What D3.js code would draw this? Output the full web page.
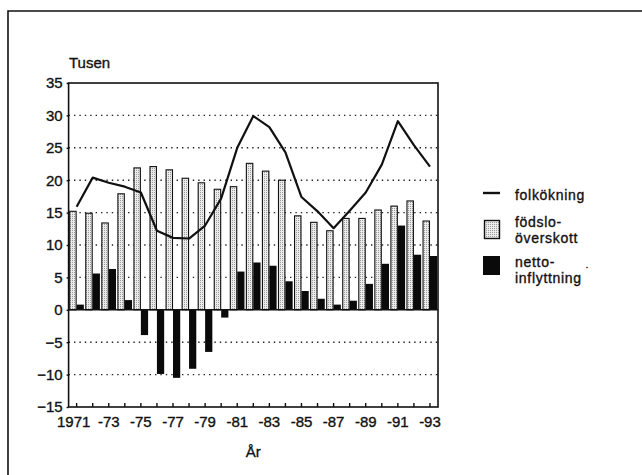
<!DOCTYPE html>
<html>
<head>
<meta charset="utf-8">
<script src="https://cdn.jsdelivr.net/npm/d3@7"></script>
<style>
  body { margin: 0; background: #fff; }
  svg { display: block; font-family: 'Liberation Sans', Arial, sans-serif; }
  svg text { stroke: #111; stroke-width: 0.35px; }
</style>
</head>
<body>
<svg id="chart"></svg>
<script>
// År 1971-1993, tusental
const years = d3.range(1971, 1994);
const fodsloOverskott = [15.2, 14.9, 13.4, 17.9, 21.9, 22.1, 21.6, 20.3, 19.6, 18.6, 19.0, 22.6,
  21.4, 20.0, 14.5, 13.5, 12.2, 14.1, 14.1, 15.4, 16.0, 16.8, 13.7];
const nettoInflyttning = [0.8, 5.6, 6.3, 1.5, -3.9, -9.9, -10.5, -9.1, -6.5, -1.2, 5.9, 7.3,
  6.8, 4.4, 2.9, 1.7, 0.8, 1.4, 4.0, 7.1, 13.0, 8.5, 8.3];
const folkokning = [15.9, 20.4, 19.6, 19.0, 18.1, 12.2, 11.1, 11.0, 13.0, 17.2, 25.0, 29.9,
  28.2, 24.3, 17.4, 15.2, 12.6, 15.3, 18.1, 22.4, 29.1, 25.4, 22.1];
const yTicks = [-15, -10, -5, 0, 5, 10, 15, 20, 25, 30, 35];
const xLabelYears = [1971, 1973, 1975, 1977, 1979, 1981, 1983, 1985, 1987, 1989, 1991, 1993];

const width = 642;
const height = 475;
const plot = { left: 68.6, right: 438, top: 83, bottom: 407 };

const svg = d3.select('#chart')
  .attr('width', width)
  .attr('height', height)
  .attr('viewBox', `0 0 ${width} ${height}`);

// prickig fyllning för födsloöverskott
const pattern = svg.append('defs')
  .append('pattern')
  .attr('id', 'stipple')
  .attr('width', 2)
  .attr('height', 2)
  .attr('patternUnits', 'userSpaceOnUse');
pattern.append('rect').attr('width', 2).attr('height', 2).attr('fill', '#ececec');
pattern.append('rect').attr('width', 1).attr('height', 1).attr('fill', '#9a9a9a');

// yttre ram (bara topp och vänster syns)
svg.append('path')
  .attr('d', `M8,475 V11 H642`)
  .attr('fill', 'none')
  .attr('stroke', '#111')
  .attr('stroke-width', 1.6);

const x = d3.scaleBand()
  .domain(years)
  .range([plot.left, plot.right])
  .padding(0);

const y = d3.scaleLinear()
  .domain([-15, 35])
  .range([plot.bottom, plot.top]);

const bw = x.bandwidth();
const g = svg.append('g');

// streckade rutlinjer
g.selectAll('.grid')
  .data(yTicks.filter(d => d !== 0 && d !== 35 && d !== -15))
  .enter()
  .append('line')
  .attr('class', 'grid')
  .attr('x1', plot.left)
  .attr('x2', plot.right)
  .attr('y1', d => y(d))
  .attr('y2', d => y(d))
  .attr('stroke', '#222')
  .attr('stroke-width', 1.4)
  .attr('stroke-dasharray', '1.4,4');

// födsloöverskott
g.selectAll('.fods')
  .data(years)
  .enter()
  .append('rect')
  .attr('class', 'fods')
  .attr('x', d => x(d) + 1.1)
  .attr('width', bw / 2 - 1.6)
  .attr('y', (d, i) => y(fodsloOverskott[i]))
  .attr('height', (d, i) => y(0) - y(fodsloOverskott[i]))
  .attr('fill', 'url(#stipple)')
  .attr('stroke', '#111')
  .attr('stroke-width', 1.1);

// nettoinflyttning
g.selectAll('.netto')
  .data(years)
  .enter()
  .append('rect')
  .attr('class', 'netto')
  .attr('x', d => x(d) + bw / 2)
  .attr('width', bw / 2 - 0.8)
  .attr('y', (d, i) => y(Math.max(0, nettoInflyttning[i])))
  .attr('height', (d, i) => Math.abs(y(nettoInflyttning[i]) - y(0)))
  .attr('fill', '#0a0a0a');

// nollinje
g.append('line')
  .attr('x1', plot.left)
  .attr('x2', plot.right)
  .attr('y1', y(0))
  .attr('y2', y(0))
  .attr('stroke', '#111')
  .attr('stroke-width', 1.6);

// folkökning
const line = d3.line()
  .x((d, i) => x(years[i]) + bw / 2)
  .y(d => y(d));

g.append('path')
  .datum(folkokning)
  .attr('d', line)
  .attr('fill', 'none')
  .attr('stroke', '#111')
  .attr('stroke-width', 2.2)
  .attr('stroke-linejoin', 'round');

// diagramram
g.append('rect')
  .attr('x', plot.left)
  .attr('y', plot.top)
  .attr('width', plot.right - plot.left)
  .attr('height', plot.bottom - plot.top)
  .attr('fill', 'none')
  .attr('stroke', '#111')
  .attr('stroke-width', 1.6);

// y-axel
const yAxis = svg.append('g')
  .attr('transform', `translate(${plot.left},0)`)
  .call(d3.axisLeft(y).tickValues(yTicks).tickSize(2).tickPadding(4));
yAxis.select('.domain').remove();
yAxis.selectAll('line').attr('stroke', '#111').attr('stroke-width', 1.4);
yAxis.selectAll('text')
  .attr('fill', '#111')
  .style('font-size', '15px')
  .style('font-family', "'Liberation Sans', Arial, sans-serif");

// x-axel, streck inåt för varje år
const xAxis = svg.append('g')
  .attr('transform', `translate(0,${plot.bottom})`)
  .call(d3.axisBottom(x)
    .tickSize(-4)
    .tickPadding(9)
    .tickFormat(d => xLabelYears.includes(d) ? (d === 1971 ? '1971' : '-' + String(d).slice(2)) : ''));
xAxis.select('.domain').remove();
xAxis.selectAll('line').attr('stroke', '#111').attr('stroke-width', 1.4);
xAxis.selectAll('text')
  .attr('fill', '#111')
  .style('font-size', '15px')
  .style('font-family', "'Liberation Sans', Arial, sans-serif");
xAxis.selectAll('.tick text').filter(d => d === 1971).attr('dx', -3);

svg.append('text')
  .attr('x', 69)
  .attr('y', 68)
  .style('font-size', '15px')
  .attr('fill', '#111')
  .text('Tusen');

svg.append('text')
  .attr('x', (plot.left + plot.right) / 2)
  .attr('y', 457)
  .attr('text-anchor', 'middle')
  .style('font-size', '15px')
  .attr('fill', '#111')
  .text('År');

// teckenförklaring
const legend = svg.append('g')
  .style('font-size', '14px')
  .style('letter-spacing', '0.7px')
  .attr('fill', '#111');

legend.append('line')
  .attr('x1', 483).attr('x2', 500)
  .attr('y1', 193).attr('y2', 193)
  .attr('stroke', '#111')
  .attr('stroke-width', 2.4);
legend.append('text').attr('x', 515).attr('y', 200).text('folkökning');

legend.append('rect')
  .attr('x', 484.5).attr('y', 220.5)
  .attr('width', 15).attr('height', 18)
  .attr('fill', 'url(#stipple)')
  .attr('stroke', '#111')
  .attr('stroke-width', 1.4);
legend.append('text').attr('x', 515).attr('y', 227).text('födslo-');
legend.append('text').attr('x', 515).attr('y', 243).text('överskott');

legend.append('rect')
  .attr('x', 483).attr('y', 256)
  .attr('width', 17).attr('height', 19)
  .attr('fill', '#0a0a0a');
legend.append('text').attr('x', 515).attr('y', 267).text('netto-');
legend.append('text').attr('x', 515).attr('y', 283).text('inflyttning')
  .append('tspan').attr('dx', 4).attr('dy', -8).style('font-size', '10px').text('˙');
</script>
</body>
</html>
